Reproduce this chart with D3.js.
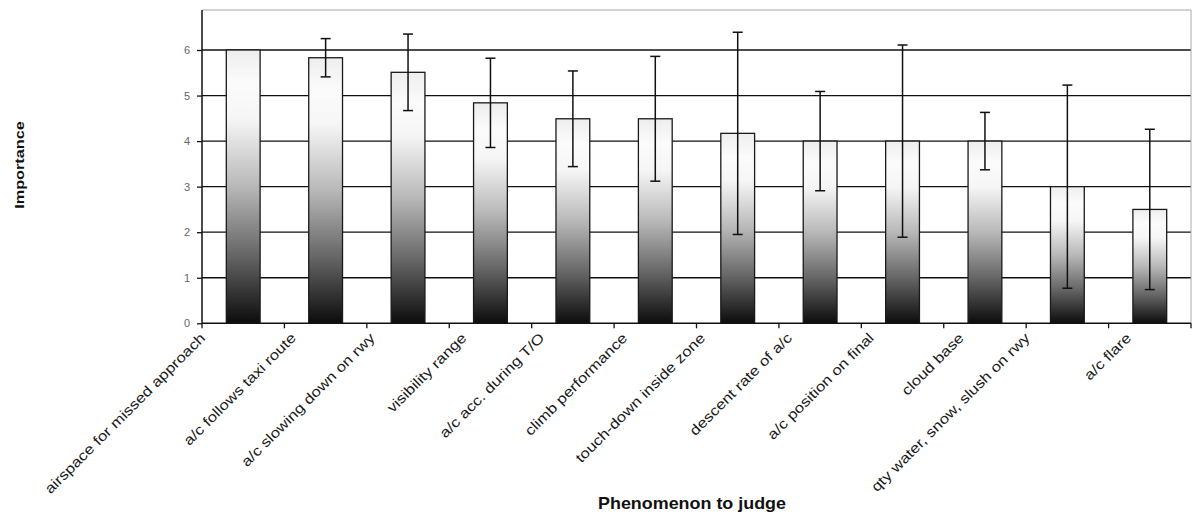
<!DOCTYPE html>
<html>
<head>
<meta charset="utf-8">
<script src="https://cdn.jsdelivr.net/npm/d3@7"></script>
<style>
  html, body { margin: 0; padding: 0; background: #fff; }
  svg { display: block; }
</style>
</head>
<body>
<svg id="chart" width="1196" height="519"></svg>
<script>
const categories = [
  "airspace for missed approach",
  "a/c follows taxi route",
  "a/c slowing down on rwy",
  "visibility range",
  "a/c acc. during T/O",
  "climb performance",
  "touch-down inside zone",
  "descent rate of a/c",
  "a/c position on final",
  "cloud base",
  "qty water, snow, slush on rwy",
  "a/c flare"
];
const means = [6.0, 5.83, 5.51, 4.84, 4.49, 4.49, 4.17, 4.0, 4.0, 4.0, 3.0, 2.5];
const errors = [0, 0.42, 0.84, 0.98, 1.05, 1.37, 2.22, 1.09, 2.11, 0.63, 2.23, 1.76];
const yTicks = [0, 1, 2, 3, 4, 5, 6];
const yTitle = "Importance";
const xTitle = "Phenomenon to judge";

const svg = d3.select("#chart");
const M = { left: 202, right: 1191, top: 10, bottom: 323.3 };

const x = d3.scaleBand().domain(categories).range([M.left, M.right]).paddingInner(0.59).paddingOuter(0.295);
const y = d3.scaleLinear().domain([0, 6]).range([M.bottom, 50]);

// gradient
const defs = svg.append("defs");
const grad = defs.append("linearGradient").attr("id", "barGrad")
  .attr("x1", 0).attr("y1", 0).attr("x2", 0).attr("y2", 1);
[[0, "#eeeeee"], [0.12, "#fbfbfb"], [0.25, "#f6f6f6"], [0.5, "#b8b8b8"], [0.75, "#666666"], [1, "#0c0c0c"]]
  .forEach(([o, c]) => grad.append("stop").attr("offset", o).attr("stop-color", c));

// gridlines
svg.append("g").selectAll("line").data(yTicks.filter(d => d > 0)).join("line")
  .attr("x1", M.left).attr("x2", M.right)
  .attr("y1", d => y(d)).attr("y2", d => y(d))
  .attr("stroke", "#111").attr("stroke-width", 1.3);

// frame top/right
svg.append("path")
  .attr("d", `M${M.left},${M.top}H${M.right}V${M.bottom}`)
  .attr("fill", "none").attr("stroke", "#a8a8a8").attr("stroke-width", 1);

// bars
svg.append("g").selectAll("rect").data(means).join("rect")
  .attr("x", (d, i) => x(categories[i]))
  .attr("width", x.bandwidth())
  .attr("y", d => y(d))
  .attr("height", d => y(0) - y(d))
  .attr("fill", "url(#barGrad)")
  .attr("stroke", "#1a1a1a").attr("stroke-width", 1.3);

// error bars
const eb = svg.append("g").attr("stroke", "#111").attr("stroke-width", 1.5);
means.forEach((m, i) => {
  const e = errors[i];
  if (!e) return;
  const cx = x(categories[i]) + x.bandwidth() / 2;
  eb.append("line").attr("x1", cx).attr("x2", cx).attr("y1", y(m + e)).attr("y2", y(m - e));
  eb.append("line").attr("x1", cx - 5).attr("x2", cx + 5).attr("y1", y(m + e)).attr("y2", y(m + e));
  eb.append("line").attr("x1", cx - 5).attr("x2", cx + 5).attr("y1", y(m - e)).attr("y2", y(m - e));
});

// y axis
const yAxis = d3.axisLeft(y).tickValues(yTicks).tickSize(5).tickPadding(7).tickFormat(d3.format("d"));
const gy = svg.append("g").attr("transform", `translate(${M.left},0)`).call(yAxis);
gy.select(".domain").attr("d", `M0,${M.top}V${M.bottom}`).attr("stroke", "#111").attr("stroke-width", 1.5);
gy.selectAll(".tick line").attr("stroke", "#111").attr("stroke-width", 1.3);
gy.selectAll(".tick text").attr("font-family", "Arial, 'Liberation Sans', sans-serif").attr("font-size", 11).attr("fill", "#666");

// x axis line and ticks at category boundaries
const gx = svg.append("g");
gx.append("line").attr("x1", M.left).attr("x2", M.right).attr("y1", M.bottom).attr("y2", M.bottom)
  .attr("stroke", "#111").attr("stroke-width", 1.5);
const bounds = d3.range(categories.length + 1).map(i => M.left + i * (M.right - M.left) / categories.length);
gx.selectAll("line.tk").data(bounds).join("line").attr("class", "tk")
  .attr("x1", d => d).attr("x2", d => d).attr("y1", M.bottom).attr("y2", M.bottom + 5)
  .attr("stroke", "#111").attr("stroke-width", 1.3);

// category labels
const labels = gx.selectAll("text.cat").data(categories).join("text").attr("class", "cat")
  .attr("font-family", "Arial, 'Liberation Sans', sans-serif")
  .attr("font-size", 14)
  .attr("fill", "#1a1a1a")
  .attr("text-anchor", "end")
  .text(d => d);
labels.each(function(d) {
  const len = this.getComputedTextLength() * 1.2;
  const cx = x(d) + x.bandwidth() / 2 - (14 + 0.12 * len);
  d3.select(this).attr("transform", `translate(${cx},${M.bottom + 12}) rotate(-45) scale(1.2,1)`).attr("dy", "0.35em");
});

// titles
svg.append("text")
  .attr("transform", `translate(19,165) rotate(-90) scale(1.25,1)`)
  .attr("text-anchor", "middle")
  .attr("font-family", "Arial, 'Liberation Sans', sans-serif")
  .attr("font-weight", "bold").attr("font-size", 13).attr("fill", "#111")
  .attr("dy", "0.35em")
  .text(yTitle);
svg.append("text")
  .attr("transform", `translate(692,509) scale(1.12,1)`)
  .attr("text-anchor", "middle")
  .attr("font-family", "Arial, 'Liberation Sans', sans-serif")
  .attr("font-weight", "bold").attr("font-size", 16).attr("fill", "#111")
  .text(xTitle);
</script>
</body>
</html>
